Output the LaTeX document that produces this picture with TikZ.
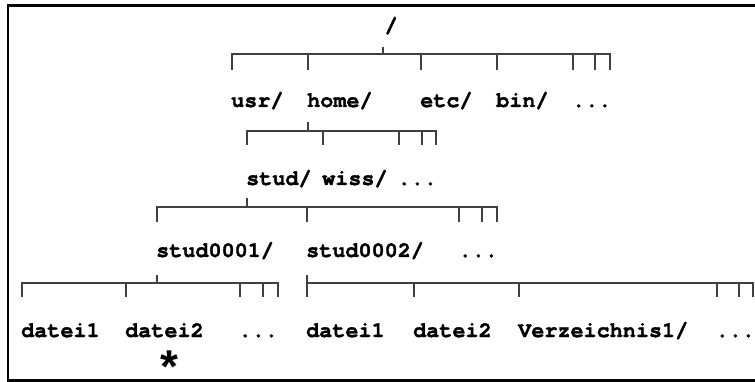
\documentclass[tikz,border=0pt]{standalone}
\usepackage{fontspec}
\setmonofont{TeX Gyre Cursor}[BoldFeatures={FakeBold=1.6}]
\newfontfamily\starfont{Liberation Sans}
\begin{document}
\begin{tikzpicture}[x=1pt,y=-1pt,
  t/.style={anchor=base west, inner sep=0pt, font=\ttfamily\bfseries\fontsize{21.8}{24}\selectfont},
  br/.style={line width=1.2pt, draw=black!75}]
\useasboundingbox (0,0) rectangle (755,382);
\draw[line width=2.5pt] (755,5.5) -- (8,5.5) -- (8,380.5) -- (755,380.5);
% texts
\node[t] (root) at (384.5,32) {/};
\node[t] (usr) at (231,107) {usr/};
\node[t] (home) at (307,107) {home/};
\node[t] (etc) at (420,107) {etc/};
\node[t] (bin) at (496,107) {bin/};
\node[t] (dotsA) at (572,107) {...};
\node[t] (stud) at (246,185) {stud/};
\node[t] (wiss) at (322,185) {wiss/};
\node[t] (dotsB) at (397.5,185) {...};
\node[t] (sa) at (156,257) {stud0001/};
\node[t] (sb) at (306,257) {stud0002/};
\node[t] (dotsC) at (458.5,257) {...};
\node[t] (da) at (21,337) {datei1};
\node[t] (db) at (125,337) {datei2};
\node[t] (dotsD) at (238.5,337) {...};
\node[t] (dc) at (306,337) {datei1};
\node[t] (dd) at (413,337) {datei2};
\node[t] (verz) at (518,337) {Verzeichnis1/};
\node[t] (dotsE) at (715.5,337) {...};
\node[inner sep=0pt, font=\starfont\bfseries\fontsize{46}{46}\selectfont] (star) at (169,356) {\smash{\raisebox{-0.575em}{*}}};
% bracket 1
\draw[br] (383,47) -- (383,54);
\draw[br] (232,70) -- (232,54) -- (610,54) -- (610,70);
\foreach \x in {308,421,497,573,595} \draw[br] (\x,54) -- (\x,70);
% bracket 2
\draw[br] (308,122) -- (308,131);
\draw[br] (247,145) -- (247,131) -- (436,131) -- (436,145);
\foreach \x in {323,399,422} \draw[br] (\x,131) -- (\x,145);
% bracket 3
\draw[br] (247,198) -- (247,207);
\draw[br] (157,222) -- (157,207) -- (497,207) -- (497,222);
\foreach \x in {307,459,482} \draw[br] (\x,207) -- (\x,222);
% bracket 4a
\draw[br] (157,275) -- (157,283);
\draw[br] (22,297) -- (22,283) -- (278,283) -- (278,297);
\foreach \x in {126,240,263} \draw[br] (\x,283) -- (\x,297);
% bracket 4b
\draw[br] (307,275) -- (307,297);
\draw[br] (307,283) -- (753,283) -- (753,297);
\foreach \x in {414,519,717,739} \draw[br] (\x,283) -- (\x,297);
\end{tikzpicture}
\end{document}
